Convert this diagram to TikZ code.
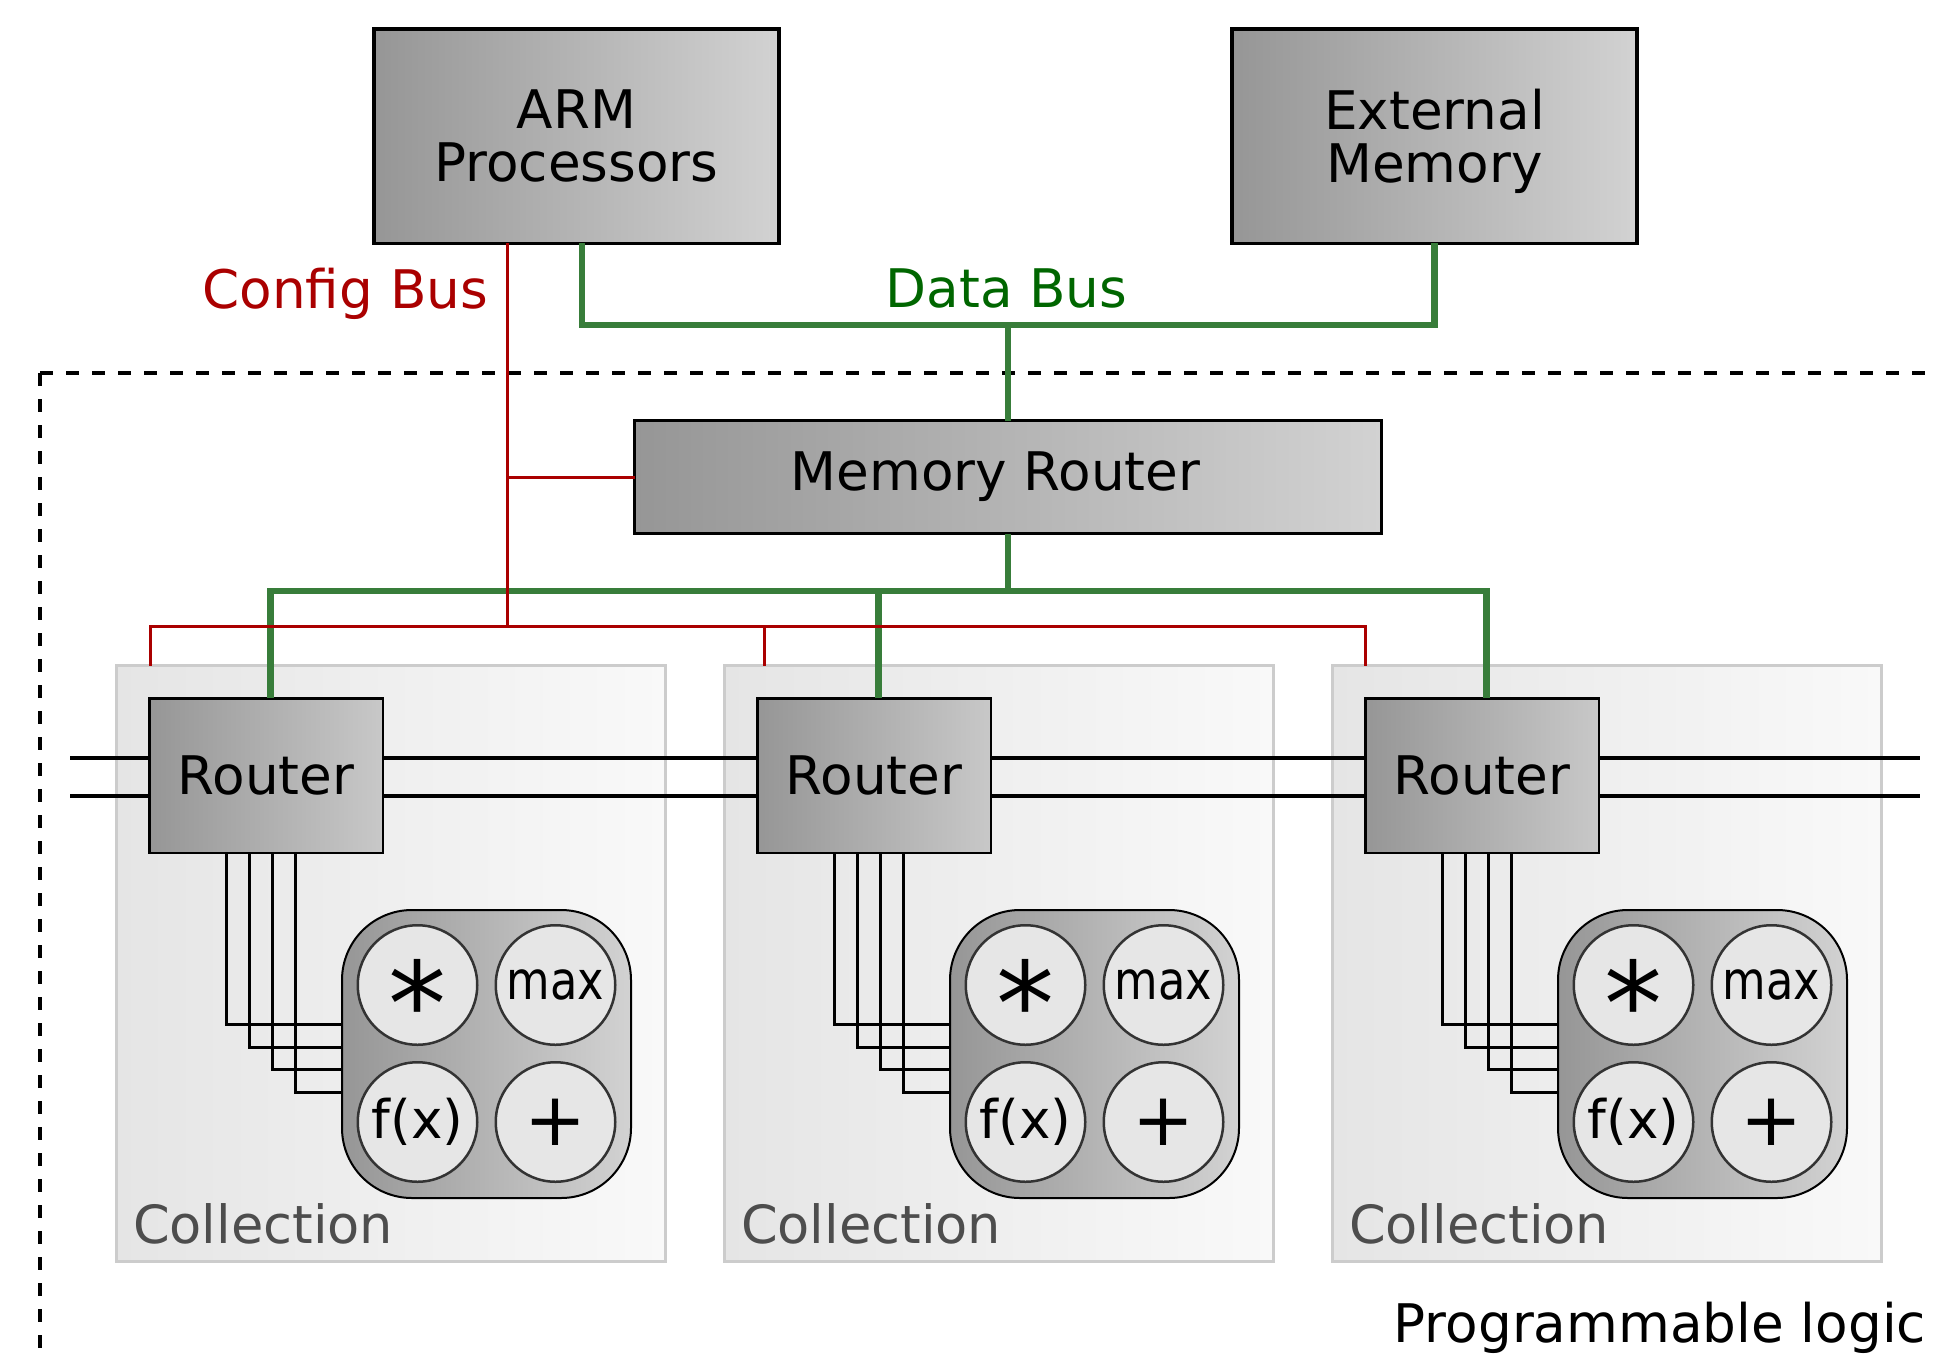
\documentclass[tikz,border=0pt]{standalone}
\usepackage{fontspec}
\setmainfont{DejaVu Sans}
\usepackage{graphicx}
\usetikzlibrary{calc}

\definecolor{cfgred}{RGB}{170,0,0}
\definecolor{busgreen}{RGB}{56,125,58}
\definecolor{bustext}{RGB}{0,102,0}
\definecolor{colltext}{RGB}{77,77,77}
\definecolor{collrim}{RGB}{204,204,204}
\definecolor{collleft}{RGB}{229,229,229}
\definecolor{collright}{RGB}{249,249,249}
\definecolor{boxleft}{RGB}{150,150,150}
\definecolor{boxright}{RGB}{210,210,210}
\definecolor{routerright}{RGB}{200,200,200}
\definecolor{ringgray}{RGB}{51,51,51}
\definecolor{opfill}{RGB}{230,230,230}

\newcommand\lblfont{\fontsize{26.6}{26.5}\selectfont}

\begin{document}
\begin{tikzpicture}[x=0.5pt,y=-0.5pt,
  every node/.style={outer sep=0pt},
  hostbox/.style={draw=black,line width=1.75pt,left color=boxleft,right color=boxright,
    minimum width=202.5pt,minimum height=107.25pt,inner sep=0pt,align=center,font=\lblfont},
  mrbox/.style={draw=black,line width=1.5pt,left color=boxleft,right color=boxright,
    minimum width=373.5pt,minimum height=56.5pt,inner sep=0pt,font=\lblfont},
  routerbox/.style={draw=black,line width=1.25pt,left color=boxleft,right color=routerright,
    minimum width=116.75pt,minimum height=77.25pt,inner sep=0pt,font=\lblfont},
  collbox/.style={draw=collrim,line width=1.5pt,left color=collleft,right color=collright,
    minimum width=274.5pt,minimum height=298pt,inner sep=0pt},
  fubox/.style={draw=black,line width=1pt,rounded corners=35pt,left color=boxleft,right color=boxright,
    minimum width=144.5pt,minimum height=144pt,inner sep=0pt},
  opcircle/.style={circle,draw=ringgray,line width=1.25pt,fill=opfill,
    minimum size=59.75pt,inner sep=0pt,font=\lblfont},
  data/.style={draw=busgreen,line width=3.25pt},
  cfg/.style={draw=cfgred,line width=1.5pt},
  link/.style={draw=black,line width=1.6pt},
  wire/.style={draw=black,line width=1.5pt},
  boundary/.style={draw=black,line width=1.75pt,dash pattern=on 6.5pt off 6.5pt},
  plain/.style={inner sep=0pt,font=\lblfont}
]
\useasboundingbox (0,0) rectangle (1938,1360);

% programmable-logic boundary
\coordinate (plcorner) at (40,373);
\coordinate (plright) at (1938,373);
\coordinate (plbottom) at (40,1360);
\draw[boundary] (plcorner) -- (plright);
\draw[boundary] (plcorner) -- (plbottom);
\node[plain,anchor=base east] (pllabel) at (1926,1342) {Programmable logic};

% host side
\node[hostbox] (arm) at (576.5,136) {ARM\\Processors};
\node[hostbox] (ext) at (1434.5,136) {External\\\raisebox{0pt}[\height][0pt]{Memory}};
\node[mrbox] (mr) at (1008,477) {Memory Router\kern12.5pt};

% collections, background first
\foreach \i/\dx in {1/0,2/608,3/1216}{
  \node[collbox] (c\i) at (391+\dx,963.5) {};
  \node[plain,anchor=base west,text=colltext] (cl\i) at (133+\dx,1243) {\fontsize{26.3}{26}\selectfont Collection};
}

% router-to-router links, running behind the routers
\coordinate (lwa) at (70,758);
\coordinate (lea) at (1920,758);
\coordinate (lwb) at (70,796);
\coordinate (leb) at (1920,796);
\draw[link] (lwa) -- (lea);
\draw[link] (lwb) -- (leb);

\foreach \i/\dx in {1/0,2/608,3/1216}{
  \node[routerbox] (r\i) at (266+\dx,775.5) {Router};
  \node[fubox] (fu\i) at (486.5+\dx,1054) {};
  \node[opcircle] (mul\i) at (417.5+\dx,985) {\fontsize{58}{58}\selectfont\raisebox{-0.524em}[0pt][0pt]{*}};
  \node[opcircle] (max\i) at (555.5+\dx,985) {\scalebox{0.84}[1]{max}};
  \node[opcircle] (fx\i) at (417.5+\dx,1122) {f(x)};
  \node[opcircle] (add\i) at (555.5+\dx,1122) {\fontsize{37}{37}\selectfont +};
  \foreach \wx/\wy in {77/114,100/137,123/159,146/182}
    \draw[wire] ($(r\i.south west)+(\wx,0)$) |- ($(fu\i.north west)+(0,\wy)$);
}

% data bus
\coordinate (armdata) at ($(arm.south)+(5.5,0)$);
\coordinate (dbjoin) at ($(mr.north)+(0,-95.5)$);
\coordinate (lowbus) at ($(mr.south)+(0,57.5)$);
\draw[data] (armdata) |- (dbjoin) -| (ext.south);
\draw[data] (dbjoin) -- (mr.north);
\draw[data] (mr.south) -- (lowbus);
\foreach \i in {1,2,3}
  \coordinate (rin\i) at ($(r\i.north)+(4.5,0)$);
\draw[data] (rin1) |- (lowbus) -| (rin3);
\draw[data] (rin2) -- (rin2 |- lowbus);

% config bus
\coordinate (cfgtop) at ($(arm.south)+(-69.5,0)$);
\coordinate (cfgtee) at ($(cfgtop)+(0,383)$);
\coordinate (cd1) at ($(c1.north west)+(33.5,0)$);
\coordinate (cd2) at ($(c2.north west)+(39.5,0)$);
\coordinate (cd3) at ($(c3.north west)+(32.5,0)$);
\draw[cfg] (cfgtop) -- (cfgtee);
\draw[cfg] (mr.west) -- (mr.west -| cfgtop);
\draw[cfg] (cd1) |- (cfgtee) -| (cd3);
\draw[cfg] (cd2) -- (cd2 |- cfgtee);

% bus labels
\node[plain,anchor=base east,text=cfgred] (cfglabel) at (488,308) {Config Bus};
\node[plain,anchor=base,text=bustext] (datalabel) at (1006.5,307) {Data Bus};
\end{tikzpicture}
\end{document}
